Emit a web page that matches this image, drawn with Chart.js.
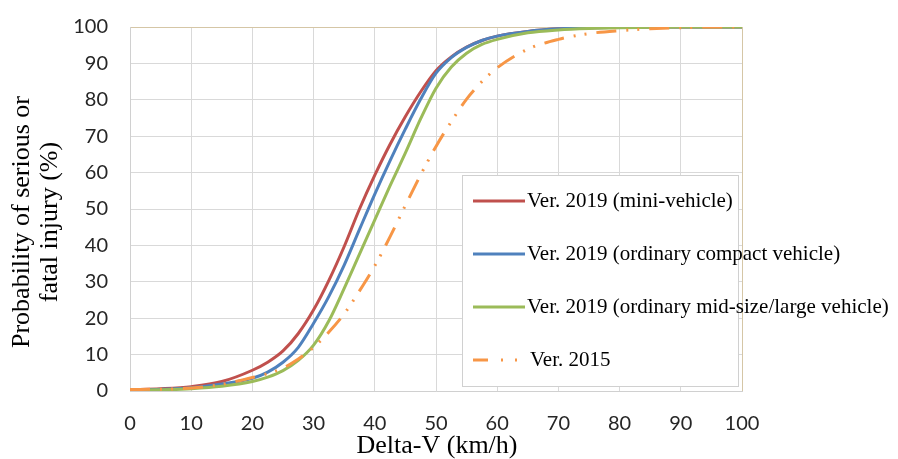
<!DOCTYPE html>
<html>
<head>
<meta charset="utf-8">
<script src="https://cdn.jsdelivr.net/npm/chart.js@4.4.1/dist/chart.umd.min.js"></script>
<style>
  html, body { margin: 0; padding: 0; background: #fff; }
  #grafico { display: block; }
</style>
</head>
<body>
<canvas id="grafico" width="898" height="459"></canvas>
<script>
// Delta-V (km/h) onde as curvas foram lidas
const deltaV = [0, 5, 10, 15, 20, 22.5, 25, 27.5, 30, 32.5, 35, 37.5, 40, 42.5, 45, 47.5, 50, 52.5, 55, 57.5, 60, 65, 70, 75, 80, 85, 90, 95, 100];

// probabilidade (%) de cada serie
const miniVehicle = [0.3, 0.6, 1.2, 2.6, 5.7, 7.9, 11.0, 15.8, 22.3, 30.4, 39.7, 50.0, 59.3, 67.8, 75.4, 82.2, 88.0, 91.8, 94.5, 96.3, 97.5, 98.8, 99.5, 99.8, 99.9, 100, 100, 100, 100];
const compactVehicle = [0.25, 0.45, 0.9, 1.9, 3.5, 5.2, 7.9, 12.0, 18.6, 26.0, 34.6, 44.4, 54.1, 63.3, 72.0, 80.2, 87.3, 91.6, 94.4, 96.3, 97.5, 98.8, 99.5, 99.8, 99.9, 100, 100, 100, 100];
const midLargeVehicle = [0.2, 0.35, 0.65, 1.3, 2.6, 3.8, 5.6, 8.4, 12.6, 19.3, 28.2, 37.6, 47.0, 56.4, 65.4, 74.8, 83.2, 89.0, 92.8, 95.2, 96.6, 98.4, 99.2, 99.6, 99.8, 99.9, 100, 100, 100];
const ver2015 = [0.4, 0.5, 0.8, 1.8, 3.7, 4.8, 6.3, 8.8, 12.0, 16.2, 21.2, 27.5, 34.4, 42.4, 51.0, 59.4, 67.2, 74.0, 80.2, 85.0, 88.8, 93.9, 96.6, 98.2, 99.0, 99.5, 99.8, 100, 100];

const nomesSeries = ['Ver. 2019 (mini-vehicle)', 'Ver. 2019 (ordinary compact vehicle)', 'Ver. 2019 (ordinary mid-size/large vehicle)', 'Ver. 2015'];
const coresSeries = ['#C0504D', '#4F81BD', '#9BBB59', '#F79646'];

const ticksX = [0, 10, 20, 30, 40, 50, 60, 70, 80, 90, 100];
const ticksY = [0, 10, 20, 30, 40, 50, 60, 70, 80, 90, 100];

const tituloX = 'Delta-V (km/h)';
const tituloY = ['Probability of serious or', 'fatal injury (%)'];

const tracejado2015 = [20, 10, 2, 9, 2, 10];

function pontos(valores) {
    return deltaV.map((v, i) => ({ x: v, y: valores[i] }));
}

// legenda e titulos desenhados a mao, como no grafico do Excel
const legendaPlugin = {
    id: 'legenda',
    afterDraw(chart) {
        const ctx = chart.ctx;
        ctx.save();

        ctx.fillStyle = '#000';
        ctx.font = '26px "Liberation Serif"';
        ctx.textAlign = 'center';
        ctx.textBaseline = 'middle';
        ctx.fillText(tituloX, 437, 446);

        ctx.save();
        ctx.translate(22, 222);
        ctx.rotate(-Math.PI / 2);
        ctx.fillText(tituloY[0], 0, 0);
        ctx.fillText(tituloY[1], 0, 28);
        ctx.restore();

        // caixa
        ctx.fillStyle = '#fff';
        ctx.fillRect(462.5, 175.5, 276, 211);
        ctx.strokeStyle = '#D0D0D0';
        ctx.lineWidth = 1;
        ctx.strokeRect(462.5, 175.5, 276, 211);

        const linhas = [201, 254, 307, 360];
        ctx.font = '21px "Liberation Serif"';
        ctx.textAlign = 'left';
        chart.data.datasets.forEach((ds, i) => {
            const y = linhas[i];
            ctx.strokeStyle = ds.borderColor;
            ctx.lineWidth = 3;
            ctx.setLineDash(i === 3 ? [15, 13, 2, 12, 2, 20] : []);
            ctx.beginPath();
            ctx.moveTo(473, y);
            ctx.lineTo(525, y);
            ctx.stroke();
            ctx.setLineDash([]);
            ctx.fillStyle = '#000';
            ctx.fillText(ds.label, i === 3 ? 530 : 527, y);
        });
        ctx.restore();
    }
};

const ctx = document.getElementById('grafico').getContext('2d');
const series = [miniVehicle, compactVehicle, midLargeVehicle, ver2015];

new Chart(ctx, {
    type: 'line',
    data: {
        datasets: series.map((valores, i) => ({
            label: nomesSeries[i],
            data: pontos(valores),
            borderColor: coresSeries[i],
            backgroundColor: coresSeries[i],
            borderWidth: 3,
            borderDash: i === 3 ? tracejado2015 : [],
            pointRadius: 0,
            fill: false,
            cubicInterpolationMode: 'monotone',
            order: 4 - i
        }))
    },
    options: {
        responsive: false,
        animation: false,
        layout: { padding: { top: 27, right: 156, left: 0, bottom: 0 } },
        plugins: {
            legend: { display: false },
            tooltip: { enabled: false }
        },
        scales: {
            x: {
                type: 'linear',
                min: 0,
                max: 100,
                afterFit: (scale) => {
                    scale.height = 68;
                    scale.paddingLeft = 0;
                    scale.paddingRight = 0;
                },
                afterBuildTicks: (scale) => { scale.ticks = ticksX.map(v => ({ value: v })); },
                grid: {
                    color: (c) => (c.tick && c.tick.value === 100 ? '#D5C6A6' : '#D9D9D9'),
                    drawTicks: false
                },
                border: { color: '#D0D0D0' },
                ticks: {
                    padding: 21,
                    color: '#262626',
                    font: { family: 'Lato', size: 20 }
                }
            },
            y: {
                min: 0,
                max: 100,
                afterFit: (scale) => {
                    scale.width = 130;
                    scale.paddingTop = 0;
                    scale.paddingBottom = 0;
                },
                afterBuildTicks: (scale) => { scale.ticks = ticksY.map(v => ({ value: v })); },
                grid: {
                    color: (c) => (c.tick && c.tick.value === 100 ? '#D5C6A6' : '#D9D9D9'),
                    drawTicks: false
                },
                border: { color: '#D0D0D0' },
                ticks: {
                    padding: 22,
                    color: '#262626',
                    font: { family: 'Lato', size: 20 }
                }
            }
        }
    },
    plugins: [legendaPlugin]
});
</script>
</body>
</html>
